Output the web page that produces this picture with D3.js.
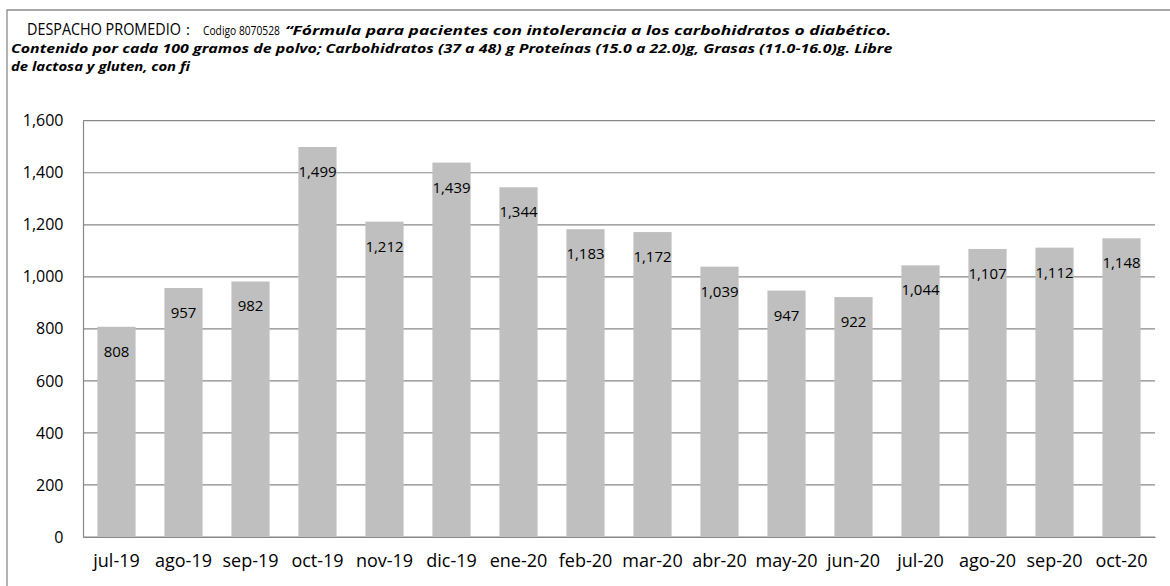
<!DOCTYPE html>
<html>
<head>
<meta charset="utf-8">
<script src="https://cdn.jsdelivr.net/npm/d3@7"></script>
<style>
  body { margin: 0; background: #fff; }
  svg { display: block; }
  svg text { font-family: "Open Sans", sans-serif; }
</style>
</head>
<body>
<svg id="chart" width="1170" height="586"></svg>
<script>
// data
const months = ["jul-19", "ago-19", "sep-19", "oct-19", "nov-19", "dic-19", "ene-20", "feb-20",
  "mar-20", "abr-20", "may-20", "jun-20", "jul-20", "ago-20", "sep-20", "oct-20"];
const despacho = [808, 957, 982, 1499, 1212, 1439, 1344, 1183, 1172, 1039, 947, 922, 1044, 1107, 1112, 1148];
const yTicks = [0, 200, 400, 600, 800, 1000, 1200, 1400, 1600];

const svg = d3.select("#chart");
const margin = {left: 83, right: 15, top: 120.7, bottom: 49};
const W = 1170, H = 586;

// outer frame (only top / left fall inside the picture)
svg.append("path").attr("d", `M7,${H + 5} V10 H${W + 5}`)
  .attr("fill", "none").attr("stroke", "#8c8c8c").attr("stroke-width", 1.3);

// title pieces: text at x,y squeezed horizontally to the width seen in the reference
// (Calibri in the original is narrower than Open Sans)
const title = svg.append("g").attr("fill", "#000");
function piece(str, x0, y0, size, width, bold) {
  const t = title.append("text").style("font-size", size + "px").text(str);
  if (bold) t.style("font-weight", "bold").style("font-style", "italic");
  const sx = width ? width / t.node().getComputedTextLength() : 1;
  t.attr("transform", `translate(${x0},${y0}) scale(${sx},1)`);
  return t;
}
piece("DESPACHO PROMEDIO", 27, 35, 16.5, 154);
piece(":", 186, 35, 15);
piece("Codigo 8070528", 203, 35, 12.5, 77);
piece("“Fórmula para pacientes con intolerancia a los carbohidratos o diabético.", 285, 35, 12.5, 607, true);
piece("Contenido por cada 100 gramos de polvo; Carbohidratos (37 a 48) g Proteínas (15.0 a 22.0)g, Grasas (11.0-16.0)g. Libre", 11, 52.7, 12.5, 882, true);
piece("de lactosa y gluten, con fi", 11, 70.7, 12.5, 179, true);

const x = d3.scaleBand().domain(months)
  .range([margin.left, W - margin.right]).paddingInner(0.43).paddingOuter(0.215);
const y = d3.scaleLinear().domain([0, 1600]).range([H - margin.bottom, margin.top]);

// gridlines
svg.append("g").selectAll("line").data(yTicks).join("line")
  .attr("x1", margin.left).attr("x2", W - margin.right)
  .attr("y1", d => y(d)).attr("y2", d => y(d))
  .attr("stroke", "#888").attr("stroke-width", 1.2);

// y axis
const yAxis = svg.append("g").attr("transform", `translate(${margin.left},0)`)
  .call(d3.axisLeft(y).tickValues(yTicks).tickFormat(d3.format(",")).tickSize(0).tickPadding(19.5));
yAxis.attr("font-family", null);
yAxis.select(".domain").attr("stroke", "#888").attr("stroke-width", 1.2);
yAxis.selectAll("text").style("font-size", "16px").attr("fill", "#000");

// bars
svg.append("g").selectAll("rect").data(despacho).join("rect")
  .attr("x", (d, i) => x(months[i]))
  .attr("width", x.bandwidth())
  .attr("y", d => y(d))
  .attr("height", d => y(0) - y(d))
  .attr("fill", "#bfbfbf");

// x axis
const xAxis = svg.append("g").attr("transform", `translate(0,${y(0)})`)
  .call(d3.axisBottom(x).tickSize(0).tickPadding(17));
xAxis.attr("font-family", null);
xAxis.select(".domain").attr("stroke", "#888").attr("stroke-width", 1.2);
xAxis.selectAll("text").style("font-size", "18px").attr("fill", "#000");

// value labels inside the bar top
svg.append("g").selectAll("text").data(despacho).join("text")
  .attr("x", (d, i) => x(months[i]) + x.bandwidth() / 2)
  .attr("y", d => y(d) + 30)
  .attr("text-anchor", "middle")
  .style("font-size", "15px")
  .attr("fill", "#000")
  .text(d => d3.format(",")(d));
</script>
</body>
</html>
